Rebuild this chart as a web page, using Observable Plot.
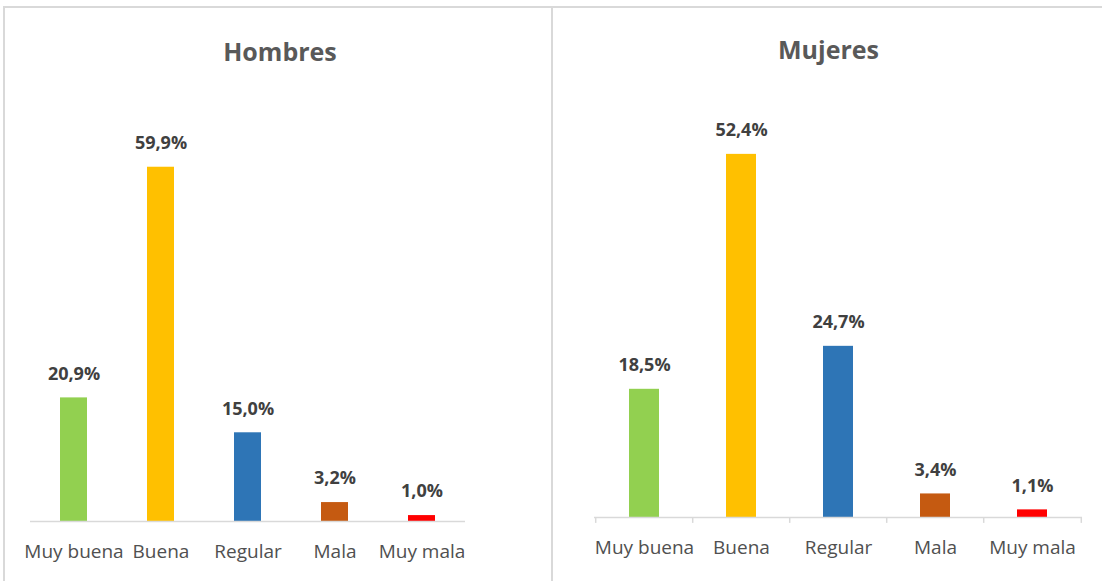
<!DOCTYPE html>
<html>
<head>
<meta charset="utf-8">
<script src="https://cdn.jsdelivr.net/npm/d3@7"></script>
<script src="https://cdn.jsdelivr.net/npm/@observablehq/plot@0.6"></script>
<style>
  html, body { margin: 0; padding: 0; background: #fff; }
  body { width: 1102px; height: 581px; position: relative; overflow: hidden; font-family: "Open Sans", sans-serif; }
  .frame { position: absolute; background: #d9d9d9; }
  .panel { position: absolute; top: 8px; }
  .title { position: absolute; width: 100%; text-align: center; font-weight: bold; font-size: 25px; color: #595959; }
</style>
</head>
<body>
<div class="frame" style="left:3px; top:6px; width:1099px; height:2px;"></div>
<div class="frame" style="left:3px; top:6px; width:2px; height:575px;"></div>
<div class="frame" style="left:551px; top:6px; width:2px; height:575px;"></div>
<div id="left" class="panel" style="left:5px; width:546px; height:573px;"><div class="title" style="top:26px; left:2px">Hombres</div></div>
<div id="right" class="panel" style="left:553px; width:547px; height:573px;"><div class="title" style="top:24px; left:2px">Mujeres</div></div>
<script>
const categories = ["Muy buena", "Buena", "Regular", "Mala", "Muy mala"];
const colors = ["#92D050", "#FFC000", "#2E75B6", "#C55A11", "#FF0000"];
const hombres = [20.9, 59.9, 15.0, 3.2, 1.0];
const mujeres = [18.5, 52.4, 24.7, 3.4, 1.1];

const fmt = v => v.toFixed(1).replace(".", ",") + "%";

function panel(values, opts) {
  const data = categories.map((c, i) => ({cat: c, value: values[i], color: colors[i]}));
  const innerW = opts.width - opts.marginLeft - opts.marginRight;
  const bw = innerW / categories.length;
  const marks = [
    Plot.barY(data, {x: "cat", y: "value", fill: "color"}),
    Plot.ruleY([0], {stroke: "#d9d9d9", strokeWidth: 1.5}),
    Plot.text(data, {x: "cat", y: "value", text: d => fmt(d.value), dy: -24, fontWeight: "bold", fontSize: 18, fill: "#404040"}),
    Plot.axisX({tickSize: 0, tickPadding: opts.tickPadding, fontSize: 19, color: "#505050", label: null})
  ];
  if (opts.ticks) {
    marks.push(Plot.ruleX(categories, {x: d => d, dx: -bw / 2, y1: 0, y2: opts.tickDepth, stroke: "#d9d9d9", strokeWidth: 1.5}));
    marks.push(Plot.ruleX(categories.slice(-1), {x: d => d, dx: bw / 2, y1: 0, y2: opts.tickDepth, stroke: "#d9d9d9", strokeWidth: 1.5}));
  }
  return Plot.plot({
    width: opts.width,
    height: opts.height,
    marginLeft: opts.marginLeft,
    marginRight: opts.marginRight,
    marginTop: opts.marginTop,
    marginBottom: opts.marginBottom,
    style: {background: "transparent", fontFamily: "'Open Sans', sans-serif", overflow: "visible"},
    x: {domain: categories, paddingInner: 0.69, paddingOuter: 0.345, label: null},
    y: {domain: opts.yDomain, axis: null},
    color: {type: "identity"},
    marks
  });
}

const L = panel(hombres, {width: 546, height: 573, marginLeft: 25, marginRight: 86, marginTop: 99, marginBottom: 60, yDomain: [0, 70], tickPadding: 23, ticks: false});
const R = panel(mujeres, {width: 547, height: 573, marginLeft: 41, marginRight: 18, marginTop: 93.2, marginBottom: 64, yDomain: [0, 60], tickPadding: 23, ticks: true, tickDepth: -0.85});
L.style.position = "absolute"; L.style.left = "0"; L.style.top = "0";
R.style.position = "absolute"; R.style.left = "0"; R.style.top = "0";
document.getElementById("left").appendChild(L);
document.getElementById("right").appendChild(R);
</script>
</body>
</html>
